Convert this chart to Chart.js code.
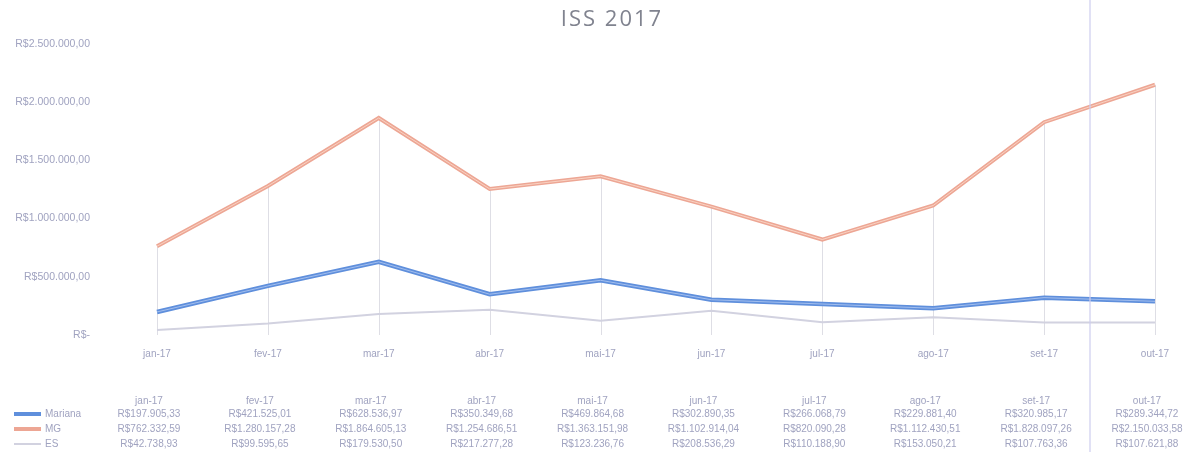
<!DOCTYPE html>
<html lang="pt-BR">
<head>
<meta charset="utf-8">
<title>ISS 2017</title>
<script src="https://cdn.jsdelivr.net/npm/chart.js@4/dist/chart.umd.min.js"></script>
<style>
  html, body { margin: 0; padding: 0; background: #ffffff; }
  #wrap { position: relative; width: 1198px; height: 452px; }
  #scanline {
    position: absolute; left: 1089px; top: 0; width: 2px; height: 452px;
    background: rgba(205, 205, 238, 0.6);
  }
</style>
</head>
<body>
<div id="wrap">
  <canvas id="chart" width="1198" height="452"></canvas>
  <div id="scanline"></div>
</div>
<script>
// ---- data ----
const months = ['jan-17', 'fev-17', 'mar-17', 'abr-17', 'mai-17', 'jun-17', 'jul-17', 'ago-17', 'set-17', 'out-17'];
const mariana = [197905.33, 421525.01, 628536.97, 350349.68, 469864.68, 302890.35, 266068.79, 229881.40, 320985.17, 289344.72];
const mg = [762332.59, 1280157.28, 1864605.13, 1254686.51, 1363151.98, 1102914.04, 820090.28, 1112430.51, 1828097.26, 2150033.58];
const es = [42738.93, 99595.65, 179530.50, 217277.28, 123236.76, 208536.29, 110188.90, 153050.21, 107763.36, 107621.88];
const yTicks = [0, 500000, 1000000, 1500000, 2000000, 2500000];
const chartTitle = 'ISS 2017';

const TEXT = '#a0a3c0';
const FONT = "'Liberation Sans', 'DejaVu Sans', sans-serif";

function brl(v) {
  if (v === 0) return 'R$-';
  return 'R$' + v.toLocaleString('pt-BR', { minimumFractionDigits: 2, maximumFractionDigits: 2 });
}

// title drawn by hand so it can get the wide letter spacing of the original
const titleText = {
  id: 'titleText',
  afterDraw(chart) {
    const { ctx, chartArea } = chart;
    ctx.save();
    ctx.font = "22px 'Open Sans', sans-serif";
    ctx.fillStyle = '#80838f';
    if ('letterSpacing' in ctx) ctx.letterSpacing = '2px';
    ctx.textAlign = 'center';
    ctx.textBaseline = 'middle';
    ctx.fillText(chartTitle, chart.width / 2 + 13, chartArea.top - 24);
    ctx.restore();
  },
};

// Excel-style drop lines from the highest point down to the axis
const dropLines = {
  id: 'dropLines',
  beforeDatasetsDraw(chart) {
    const { ctx, scales: { x, y } } = chart;
    ctx.save();
    ctx.strokeStyle = 'rgba(200, 200, 212, 0.6)';
    ctx.lineWidth = 1;
    months.forEach((_, i) => {
      const top = Math.max(mariana[i], mg[i], es[i]);
      const px = Math.round(x.getPixelForValue(i)) + 0.5;
      ctx.beginPath();
      ctx.moveTo(px, y.getPixelForValue(top));
      ctx.lineTo(px, y.getPixelForValue(0));
      ctx.stroke();
    });
    ctx.restore();
  },
};

// light core stroke to mimic the doubled look of the scanned lines
const lineCore = {
  id: 'lineCore',
  afterDatasetDraw(chart, args) {
    const meta = args.meta;
    const core = chart.data.datasets[args.index].coreColor;
    if (!core) return;
    const { ctx } = chart;
    ctx.save();
    ctx.strokeStyle = core;
    ctx.lineWidth = 1;
    ctx.lineJoin = 'round';
    ctx.beginPath();
    meta.data.forEach((p, i) => (i ? ctx.lineTo(p.x, p.y) : ctx.moveTo(p.x, p.y)));
    ctx.stroke();
    ctx.restore();
  },
};

// data table under the chart
const dataTable = {
  id: 'dataTable',
  afterDraw(chart) {
    const { ctx, scales: { x } } = chart;
    const rows = [
      { name: 'Mariana', values: mariana, color: chart.data.datasets[0].borderColor, w: 4 },
      { name: 'MG', values: mg, color: chart.data.datasets[1].borderColor, w: 4 },
      { name: 'ES', values: es, color: chart.data.datasets[2].borderColor, w: 2 },
    ];
    ctx.save();
    ctx.font = '10px ' + FONT;
    ctx.fillStyle = TEXT;
    ctx.textAlign = 'center';
    ctx.textBaseline = 'middle';
    months.forEach((m, i) => ctx.fillText(m, x.getPixelForValue(i) - 8, 401));
    rows.forEach((r, ri) => {
      const ry = 414 + ri * 15;
      ctx.strokeStyle = r.color;
      ctx.lineWidth = r.w;
      ctx.beginPath();
      ctx.moveTo(14, ry);
      ctx.lineTo(41, ry);
      ctx.stroke();
      ctx.textAlign = 'left';
      ctx.fillText(r.name, 45, ry);
      ctx.textAlign = 'center';
      r.values.forEach((v, i) => ctx.fillText(brl(v), x.getPixelForValue(i) - 8, ry));
    });
    ctx.restore();
  },
};

new Chart(document.getElementById('chart'), {
  type: 'line',
  data: {
    labels: months,
    datasets: [
      {
        label: 'Mariana',
        data: mariana,
        borderColor: '#5f8fdc',
        coreColor: 'rgba(170, 195, 240, 0.9)',
        borderWidth: 4.5,
        pointRadius: 0,
        tension: 0,
      },
      {
        label: 'MG',
        data: mg,
        borderColor: '#eda694',
        coreColor: 'rgba(250, 215, 200, 0.9)',
        borderWidth: 4,
        pointRadius: 0,
        tension: 0,
      },
      {
        label: 'ES',
        data: es,
        borderColor: '#d2d2e0',
        borderWidth: 2,
        pointRadius: 0,
        tension: 0,
      },
    ],
  },
  options: {
    responsive: false,
    animation: false,
    layout: { padding: { top: 44, right: 43, left: 0, bottom: 0 } },
    plugins: {
      legend: { display: false },
      tooltip: { enabled: false },
      title: { display: false },
    },
    scales: {
      x: {
        offset: false,
        grid: { display: false },
        border: { display: false },
        ticks: { color: TEXT, font: { family: FONT, size: 10 }, padding: 5, maxRotation: 0 },
        afterFit: (s) => { s.height = 117; },
      },
      y: {
        min: 0,
        max: 2500000,
        afterBuildTicks: (s) => { s.ticks = yTicks.map((v) => ({ value: v })); },
        grid: { display: false },
        border: { display: false },
        ticks: {
          color: TEXT,
          font: { family: FONT, size: 10.5 },
          padding: 59,
          callback: (v) => brl(v),
        },
        afterFit: (s) => {
          s.width = 157;
          // the big label gap is horizontal only, keep it out of the vertical padding
          s.paddingTop = 6;
          s.paddingBottom = 6;
        },
      },
    },
  },
  plugins: [dropLines, lineCore, dataTable, titleText],
});
</script>
</body>
</html>
